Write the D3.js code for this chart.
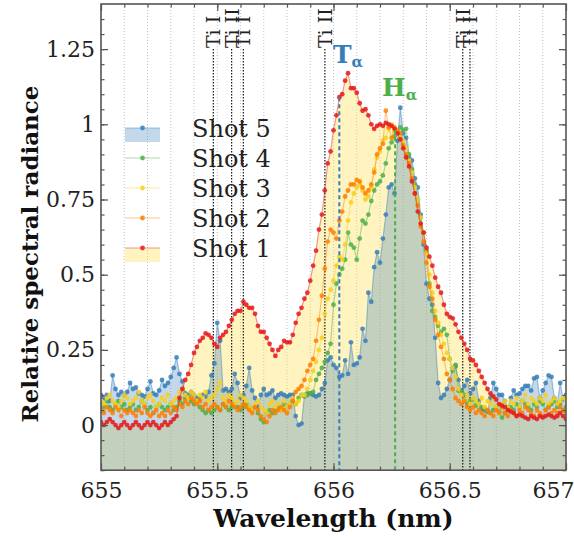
<!DOCTYPE html>
<html><head><meta charset="utf-8">
<script src="https://cdn.jsdelivr.net/npm/d3@7"></script>
<style>body{margin:0;background:#fff} svg{display:block}</style>
</head><body><svg id="c" width="574" height="536"></svg>
<script>
// ---- data ----
const wlStart = 655, wlStep = 0.0125;
const shot1 = [0.01,0.00,0.01,0.02,0.01,0.00,-0.01,0.00,0.01,0.00,
 -0.01,0.00,0.01,0.00,-0.01,0.00,0.01,0.00,0.01,0.00,
 -0.01,0.00,0.01,0.00,0.01,0.02,0.03,0.09,0.12,0.15,
 0.17,0.20,0.24,0.26,0.28,0.29,0.305,0.30,0.29,0.27,
 0.26,0.29,0.30,0.31,0.33,0.35,0.37,0.38,0.38,0.41,
 0.40,0.39,0.39,0.37,0.33,0.31,0.31,0.29,0.27,0.25,
 0.23,0.25,0.26,0.28,0.275,0.275,0.30,0.34,0.37,0.39,
 0.42,0.44,0.48,0.53,0.58,0.65,0.70,0.78,0.87,0.91,
 0.98,1.03,1.09,1.10,1.145,1.17,1.12,1.12,1.105,1.07,
 1.045,1.05,1.03,1.00,0.985,0.995,1.00,0.995,1.005,1.00,
 0.995,0.985,0.97,0.95,0.92,0.89,0.86,0.81,0.77,0.71,
 0.67,0.64,0.59,0.56,0.53,0.49,0.46,0.44,0.40,0.37,
 0.36,0.355,0.335,0.31,0.29,0.27,0.25,0.22,0.215,0.20,
 0.18,0.16,0.14,0.12,0.105,0.095,0.085,0.07,0.065,0.06,
 0.05,0.045,0.04,0.03,0.035,0.03,0.025,0.02,0.03,0.025,
 0.02,0.03,0.025,0.03,0.035,0.03,0.025,0.03,0.04,0.03,0.02];
const shot2 = [0.05,0.04,0.06,0.05,0.04,0.06,0.05,0.03,0.05,0.04,
 0.05,0.04,0.03,0.05,0.04,0.06,0.04,0.03,0.04,0.05,
 0.03,0.04,0.03,0.05,0.04,0.06,0.05,0.07,0.06,0.08,
 0.07,0.09,0.08,0.07,0.08,0.06,0.07,0.05,0.06,0.07,
 0.06,0.05,0.07,0.06,0.08,0.07,0.06,0.05,0.06,0.07,
 0.06,0.05,0.04,0.06,0.05,0.03,0.02,0.01,0.03,0.05,
 0.04,0.05,0.06,0.05,0.04,0.06,0.08,0.11,0.12,0.13,
 0.15,0.18,0.20,0.22,0.28,0.35,0.43,0.52,0.61,0.65,
 0.64,0.62,0.68,0.71,0.76,0.78,0.80,0.80,0.815,0.81,
 0.79,0.77,0.78,0.80,0.84,0.90,0.92,0.935,1.045,0.99,
 0.955,0.99,0.98,0.97,0.93,0.90,0.87,0.82,0.77,0.73,
 0.66,0.61,0.54,0.46,0.42,0.35,0.30,0.26,0.22,0.17,
 0.15,0.12,0.09,0.08,0.07,0.08,0.06,0.05,0.06,0.04,
 0.05,0.04,0.03,0.05,0.04,0.03,0.05,0.04,0.06,0.04,
 0.03,0.05,0.04,0.03,0.05,0.04,0.06,0.05,0.04,0.03,
 0.05,0.04,0.03,0.05,0.06,0.04,0.05,0.04,0.06,0.05,0.04];
const shot3 = [0.08,0.07,0.09,0.10,0.08,0.07,0.06,0.08,0.10,0.09,
 0.07,0.08,0.09,0.11,0.08,0.07,0.09,0.10,0.08,0.06,
 0.07,0.09,0.08,0.10,0.07,0.08,0.09,0.11,0.12,0.10,
 0.09,0.11,0.10,0.08,0.10,0.09,0.11,0.08,0.09,0.10,
 0.12,0.14,0.09,0.08,0.10,0.09,0.07,0.08,0.10,0.09,
 0.08,0.06,0.05,0.07,0.08,0.06,0.05,0.04,0.07,0.08,
 0.06,0.07,0.05,0.08,0.06,0.07,0.09,0.07,0.08,0.10,
 0.10,0.12,0.15,0.18,0.21,0.25,0.29,0.37,0.42,0.45,
 0.48,0.53,0.56,0.55,0.60,0.68,0.74,0.77,0.79,0.80,
 0.78,0.75,0.76,0.79,0.85,0.89,0.91,0.945,0.955,0.985,
 1.00,0.975,0.97,0.955,0.945,0.92,0.88,0.84,0.79,0.75,
 0.69,0.64,0.57,0.50,0.44,0.38,0.34,0.30,0.27,0.24,
 0.22,0.19,0.16,0.12,0.10,0.08,0.10,0.07,0.09,0.08,
 0.07,0.09,0.06,0.08,0.07,0.09,0.06,0.04,0.07,0.08,
 0.06,0.08,0.07,0.09,0.06,0.08,0.10,0.07,0.09,0.08,
 0.07,0.09,0.08,0.10,0.07,0.08,0.09,0.07,0.08,0.09,0.08];
const shot4 = [0.07,0.06,0.08,0.06,0.05,0.07,0.08,0.06,0.07,0.05,
 0.06,0.07,0.05,0.06,0.08,0.07,0.05,0.06,0.04,0.06,
 0.07,0.06,0.05,0.06,0.07,0.05,0.06,0.08,0.07,0.09,
 0.095,0.08,0.07,0.08,0.06,0.05,0.04,0.05,0.04,0.05,
 0.06,0.05,0.07,0.06,0.05,0.06,0.07,0.06,0.05,0.06,
 0.07,0.06,0.05,0.06,0.04,0.02,0.01,0.04,0.05,0.04,
 0.05,0.06,0.05,0.07,0.06,0.07,0.08,0.07,0.09,0.10,
 0.095,0.10,0.105,0.11,0.15,0.17,0.19,0.21,0.24,0.27,
 0.40,0.47,0.50,0.52,0.55,0.64,0.60,0.59,0.55,0.62,
 0.68,0.67,0.70,0.745,0.78,0.80,0.81,0.83,0.87,0.92,
 0.94,0.96,0.97,0.99,0.98,0.985,0.90,0.85,0.80,0.75,
 0.69,0.64,0.58,0.47,0.38,0.36,0.33,0.31,0.32,0.30,
 0.22,0.18,0.20,0.115,0.11,0.10,0.07,0.08,0.085,0.065,
 0.07,0.06,0.055,0.045,0.04,0.05,0.06,0.045,0.025,0.04,
 0.055,0.06,0.05,0.07,0.06,0.08,0.07,0.06,0.05,0.07,
 0.06,0.08,0.07,0.05,0.06,0.07,0.08,0.06,0.07,0.05,0.06];
const shot5 = [0.10,0.09,0.10,0.08,0.165,0.12,0.10,0.11,0.10,0.11,
 0.14,0.12,0.125,0.105,0.10,0.095,0.12,0.145,0.105,0.10,
 0.115,0.15,0.13,0.14,0.16,0.19,0.225,0.17,0.145,0.105,
 0.10,0.11,0.10,0.09,0.085,0.10,0.095,0.11,0.165,0.205,
 0.34,0.28,0.115,0.12,0.11,0.12,0.17,0.14,0.09,0.10,
 0.13,0.19,0.115,0.09,0.06,0.10,0.12,0.10,0.105,0.115,
 0.09,0.10,0.105,0.10,0.095,0.10,0.10,0.03,0.00,0.005,
 0.10,0.105,0.105,0.10,0.095,0.10,0.12,0.14,0.215,0.225,
 0.20,0.19,0.16,0.165,0.215,0.17,0.275,0.20,0.205,0.225,
 0.32,0.28,0.44,0.41,0.525,0.575,0.54,0.62,0.70,0.79,
 0.80,0.77,0.945,1.055,0.97,0.955,0.89,0.88,0.82,0.79,
 0.70,0.60,0.47,0.42,0.40,0.29,0.14,0.09,0.10,0.12,
 0.15,0.19,0.195,0.15,0.115,0.13,0.15,0.105,0.12,0.14,
 0.08,0.055,0.05,0.045,0.09,0.14,0.12,0.10,0.10,0.08,
 0.06,0.09,0.115,0.10,0.105,0.12,0.13,0.13,0.115,0.155,
 0.16,0.09,0.115,0.14,0.165,0.16,0.09,0.07,0.14,0.085,0.10];

const seriesNames = ["Shot 5","Shot 4","Shot 3","Shot 2","Shot 1"];
const seriesData = [shot5, shot4, shot3, shot2, shot1];
const seriesColors = ["#377eb8","#4daf4a","#f7cf1f","#ff7f00","#e41a1c"];
const xTicks = [655, 655.5, 656, 656.5, 657];
const xTickLabels = ["655","655.5","656","656.5","657"];
const yTicks = [0, 0.25, 0.5, 0.75, 1, 1.25];
const yTickLabels = ["0","0.25","0.5","0.75","1","1.25"];
const tiLines = [655.483, 655.562, 655.612, 655.963, 656.556, 656.587];
const tiLabels = ["Ti I","Ti II","Ti I","Ti II","Ti II","Ti I"];
const tritiumLine = 656.025, tritiumTop = 1.09;
const hydrogenLine = 656.265, hydrogenTop = 0.98;

// ---- drawing ----
const svg = d3.select("#c");
const FONT = "'DejaVu Serif', serif";
const L = 101, R = 566, T = 4, B = 470.2;
const x = d3.scaleLinear().domain([655, 657]).range([L, R]);
const y = d3.scaleLinear().domain([-0.15, 1.4]).range([B, T]);
const wl = i => wlStart + i * wlStep;

svg.append("clipPath").attr("id","clip").append("rect")
  .attr("x", L).attr("y", T).attr("width", R - L).attr("height", B - T);

// grid
const minorX = d3.range(6551, 6570).map(d => d / 10);
svg.append("g").selectAll("line").data(minorX).join("line")
  .attr("x1", d => x(d)).attr("x2", d => x(d)).attr("y1", T).attr("y2", B)
  .attr("stroke", "#c4c4c4").attr("stroke-width", 1).attr("stroke-dasharray", "1,2");

const plot = svg.append("g").attr("clip-path", "url(#clip)");
const area = d3.area().x((d, i) => x(wl(i))).y0(y(-0.15)).y1(d => y(d));
plot.append("path").datum(shot1).attr("d", area).attr("fill", "#ffd92f").attr("fill-opacity", 0.3);
plot.append("path").datum(shot5).attr("d", area).attr("fill", "#377eb8").attr("fill-opacity", 0.3);

// Ti lines
plot.append("g").selectAll("line").data(tiLines).join("line")
  .attr("x1", d => x(d)).attr("x2", d => x(d)).attr("y1", y(1.25)).attr("y2", B)
  .attr("stroke", "#000").attr("stroke-width", 1.1).attr("stroke-dasharray", "1.5,1.5");

// series
const line = d3.line().x((d, i) => x(wl(i))).y(d => y(d));
seriesData.forEach((s, k) => {
  const g = plot.append("g");
  g.append("path").datum(s).attr("d", line).attr("fill", "none")
    .attr("stroke", seriesColors[k]).attr("stroke-opacity", 0.45).attr("stroke-width", 1.2);
  g.selectAll("circle").data(s).join("circle")
    .attr("cx", (d, i) => x(wl(i))).attr("cy", d => y(d)).attr("r", 2.4)
    .attr("fill", seriesColors[k]).attr("fill-opacity", 0.85);
});

// Talpha / Halpha lines
plot.append("line").attr("x1", x(tritiumLine)).attr("x2", x(tritiumLine))
  .attr("y1", y(tritiumTop)).attr("y2", B).attr("stroke", "#377eb8")
  .attr("stroke-width", 2).attr("stroke-dasharray", "4,3");
plot.append("line").attr("x1", x(hydrogenLine)).attr("x2", x(hydrogenLine))
  .attr("y1", y(hydrogenTop)).attr("y2", B).attr("stroke", "#4daf4a")
  .attr("stroke-width", 2).attr("stroke-dasharray", "4,3");

// Ti labels
svg.append("g").selectAll("text").data(tiLines).join("text")
  .attr("transform", d => `translate(${x(d) + 7},${y(1.25) - 1}) rotate(-90)`)
  .attr("font-family", FONT).attr("font-size", 19).attr("fill", "#222")
  .text((d, i) => tiLabels[i]);

// Talpha/Halpha labels
function greek(xp, yp, main, color) {
  const t = svg.append("text").attr("x", xp).attr("y", yp)
    .attr("font-family", FONT).attr("font-weight", "bold").attr("fill", color);
  t.append("tspan").attr("font-size", 25).text(main);
  t.append("tspan").attr("font-size", 15).attr("dy", 4).text("α");
}
greek(333, 63, "T", "#377eb8");
greek(382, 96, "H", "#4daf4a");

// axes
const styleAxis = g => {
  g.select(".domain").remove();
  g.selectAll(".tick line").attr("stroke", "#555").attr("stroke-width", 1.2);
  g.selectAll("text").attr("font-family", FONT).attr("font-size", 22).attr("fill", "#222");
};
const minorY = d3.range(-3, 28).map(d => d * 0.05);
svg.append("g").attr("transform", `translate(0,${B})`)
  .call(d3.axisBottom(x).tickValues(minorX).tickSize(-3.5).tickFormat("")).call(styleAxis);
const xb = svg.append("g").attr("transform", `translate(0,${B})`)
  .call(d3.axisBottom(x).tickValues(xTicks).tickSize(-7).tickPadding(12)
    .tickFormat((d, i) => xTickLabels[i])).call(styleAxis);
xb.selectAll(".tick text").filter((d, i) => i === xTicks.length - 1).attr("x", -13);
svg.append("g").attr("transform", `translate(0,${T})`)
  .call(d3.axisTop(x).tickValues(minorX).tickSize(-3.5).tickFormat("")).call(styleAxis);
svg.append("g").attr("transform", `translate(0,${T})`)
  .call(d3.axisTop(x).tickValues(xTicks).tickSize(-7).tickFormat("")).call(styleAxis);
svg.append("g").attr("transform", `translate(${L},0)`)
  .call(d3.axisLeft(y).tickValues(minorY).tickSize(-3.5).tickFormat("")).call(styleAxis);
svg.append("g").attr("transform", `translate(${L},0)`)
  .call(d3.axisLeft(y).tickValues(yTicks).tickSize(-7).tickPadding(6)
    .tickFormat((d, i) => yTickLabels[i])).call(styleAxis);
svg.append("g").attr("transform", `translate(${R},0)`)
  .call(d3.axisRight(y).tickValues(minorY).tickSize(-3.5).tickFormat("")).call(styleAxis);
svg.append("g").attr("transform", `translate(${R},0)`)
  .call(d3.axisRight(y).tickValues(yTicks).tickSize(-7).tickFormat("")).call(styleAxis);

svg.append("rect").attr("x", L).attr("y", T).attr("width", R - L).attr("height", B - T)
  .attr("fill", "none").attr("stroke", "#555").attr("stroke-width", 1.6);

// axis titles
svg.append("text").attr("x", (L + R) / 2).attr("y", 527).attr("text-anchor", "middle")
  .attr("font-family", FONT).attr("font-weight", "bold").attr("font-size", 25).attr("fill", "#111")
  .text("Wavelength (nm)");
svg.append("text").attr("transform", "translate(38,254) rotate(-90)").attr("text-anchor", "middle")
  .attr("font-family", FONT).attr("font-weight", "bold").attr("font-size", 23).attr("fill", "#111")
  .text("Relative spectral radiance");

// legend
const lg = svg.append("g");
seriesNames.forEach((name, k) => {
  const yr = 128 + 30 * k;
  const c = seriesColors[k];
  if (k === 0) lg.append("rect").attr("x", 125).attr("y", yr).attr("width", 35).attr("height", 14)
    .attr("fill", "#377eb8").attr("fill-opacity", 0.3);
  if (k === 4) lg.append("rect").attr("x", 125).attr("y", yr).attr("width", 35).attr("height", 14)
    .attr("fill", "#ffd92f").attr("fill-opacity", 0.3);
  lg.append("line").attr("x1", 125).attr("x2", 160).attr("y1", yr).attr("y2", yr)
    .attr("stroke", c).attr("stroke-opacity", 0.45).attr("stroke-width", 1.2);
  lg.append("circle").attr("cx", 142.5).attr("cy", yr).attr("r", 2.4).attr("fill", c).attr("fill-opacity", 0.85);
  lg.append("text").attr("x", 192).attr("y", yr + 9).attr("font-family", FONT)
    .attr("font-size", 24).attr("fill", "#222").text(name);
});
</script>
</body></html>
